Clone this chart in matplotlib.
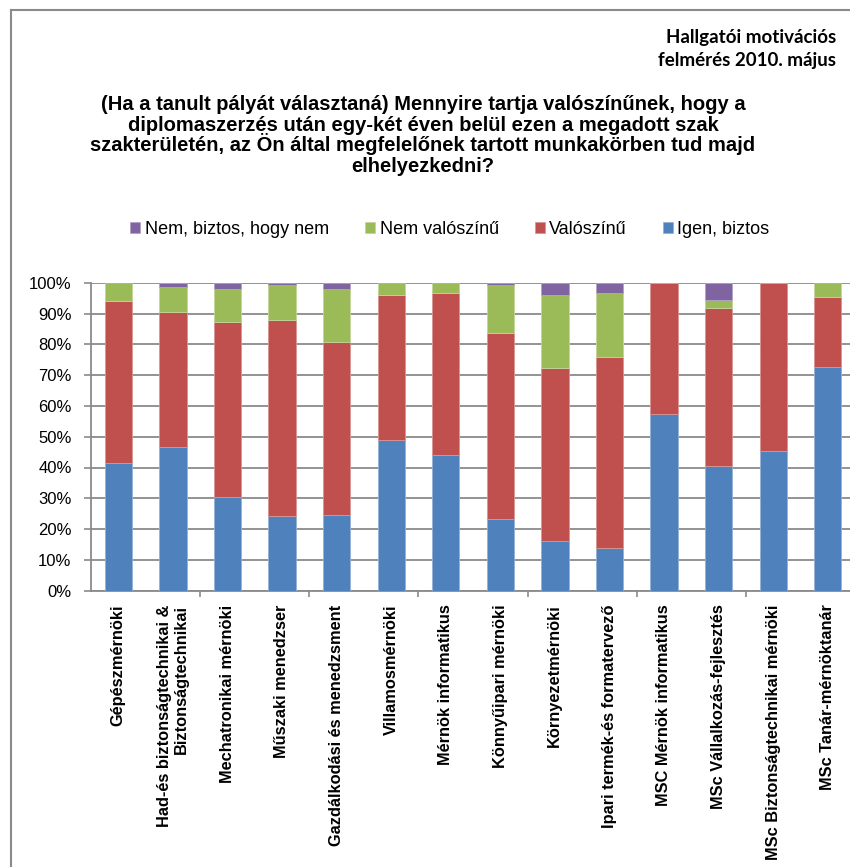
import matplotlib
matplotlib.use("Agg")
import matplotlib.pyplot as plt
import numpy as np
from matplotlib.lines import Line2D

categories = [
    "Gépészmérnöki",
    "Had-és biztonságtechnikai &\nBiztonságtechnikai",
    "Mechatronikai mérnöki",
    "Műszaki menedzser",
    "Gazdálkodási és menedzsment",
    "Villamosmérnöki",
    "Mérnök informatikus",
    "Könnyűipari mérnöki",
    "Környezetmérnöki",
    "Ipari termék-és formatervező",
    "MSC Mérnök informatikus",
    "MSc Vállalkozás-fejlesztés",
    "MSc Biztonságtechnikai mérnöki",
    "MSc Tanár-mérnöktanár",
]
igen_biztos = [41.4, 46.7, 30.3, 24.1, 24.5, 48.8, 44.1, 23.2, 16.0, 13.9, 57.3, 40.5, 45.4, 72.7]
valoszinu = [52.7, 43.8, 57.0, 63.8, 56.3, 47.1, 52.7, 60.6, 56.4, 62.0, 42.7, 51.4, 54.6, 22.7]
nem_valoszinu = [5.9, 8.1, 10.8, 11.5, 17.3, 4.1, 3.2, 15.6, 23.5, 20.9, 0.0, 2.6, 0.0, 4.6]
nem_biztos = [0.0, 1.4, 1.9, 0.6, 1.9, 0.0, 0.0, 0.6, 4.1, 3.2, 0.0, 5.5, 0.0, 0.0]

series_names = ["Igen, biztos", "Valószínű", "Nem valószínű", "Nem, biztos, hogy nem"]
colors = ["#4F81BD", "#C0504D", "#9BBB59", "#8064A2"]
edge_colors = ["#95B3D7", "#D99694", "#C3D69B", "#B3A2C7"]

title_lines = [
    "(Ha a tanult pályát választaná) Mennyire tartja valószínűnek, hogy a",
    "diplomaszerzés után egy-két éven belül ezen a megadott szak",
    "szakterületén, az Ön által megfelelőnek tartott munkakörben tud majd",
    "elhelyezkedni?",
]

plt.rcParams['font.family'] = ['Liberation Sans', 'DejaVu Sans']

W, H = 850, 867
fig = plt.figure(figsize=(W / 100, H / 100), dpi=100)

# axes in pixel coordinates
x_left, x_right = 91, 855
y_top, y_bot = 282.7, 590.7
ax = fig.add_axes([x_left / W, 1 - y_bot / H, (x_right - x_left) / W, (y_bot - y_top) / H])

x = np.arange(len(categories))
data = [igen_biztos, valoszinu, nem_valoszinu, nem_biztos]
bottom = np.zeros(len(categories))
handles = []
for vals, name, c, ec in zip(data, series_names, colors, edge_colors):
    v = np.array(vals) / 100.0
    b = ax.bar(x, v, bottom=bottom, width=0.5, color=c, edgecolor=ec, linewidth=0.6,
               label=name, zorder=3)
    handles.append(b)
    bottom += v

ax.set_xlim(-0.5, len(categories) - 0.5)
ax.set_ylim(0, 1)
ax.set_yticks(np.arange(0, 1.01, 0.1))
ax.set_yticklabels([f"{int(round(t * 100))}%" for t in np.arange(0, 1.01, 0.1)], fontsize=12)
ax.yaxis.grid(True, color="#8a8a8a", linewidth=1.3, zorder=0)
ax.set_axisbelow(True)

for s in ["top", "right"]:
    ax.spines[s].set_visible(False)
for s in ["left", "bottom"]:
    ax.spines[s].set_color("#8a8a8a")
    ax.spines[s].set_linewidth(1.3)

ax.tick_params(axis="y", length=5, width=1.2, color="#8a8a8a", pad=9)
ax.set_xticks(x)
ax.set_xticklabels(categories, rotation=90, fontsize=11.8, fontweight="bold",
                   va="top", ha="center", multialignment="right", linespacing=1.1)
ax.tick_params(axis="x", which="major", length=0, pad=10)
ax.set_xticks(np.arange(1.5, len(categories), 2), minor=True)
ax.tick_params(axis="x", which="minor", length=4, width=1.2, color="#8a8a8a", direction="out")

# Legend (reversed order)
leg = fig.legend(handles[::-1], series_names[::-1], loc="center",
                 bbox_to_anchor=(450 / W, 1 - 229 / H), ncol=4, frameon=False,
                 fontsize=13, handlelength=0.55, handleheight=0.55, handletextpad=0.25,
                 columnspacing=2.0)

# Title, one text per line for even spacing
for i, line in enumerate(title_lines):
    fig.text(423 / W, 1 - (110 + 20.7 * i) / H, line, ha="center", va="baseline",
             fontsize=14.5, fontweight="bold")

fig.text(836 / W, 1 - 49 / H, "Hallgatói motivációs\nfelmérés 2010. május", ha="right",
         va="center", fontsize=13.5, fontweight="bold", family=["Lato", "DejaVu Sans"],
         multialignment="right", linespacing=1.4)

# chart border (left and top edges visible)
fig.add_artist(Line2D([11 / W, 11 / W], [1 - 10 / H, 0], transform=fig.transFigure,
                      color="#8a8a8a", linewidth=1.5))
fig.add_artist(Line2D([11 / W, 1.0], [1 - 10 / H, 1 - 10 / H], transform=fig.transFigure,
                      color="#8a8a8a", linewidth=1.5))

fig.savefig("out.png", dpi=100)
